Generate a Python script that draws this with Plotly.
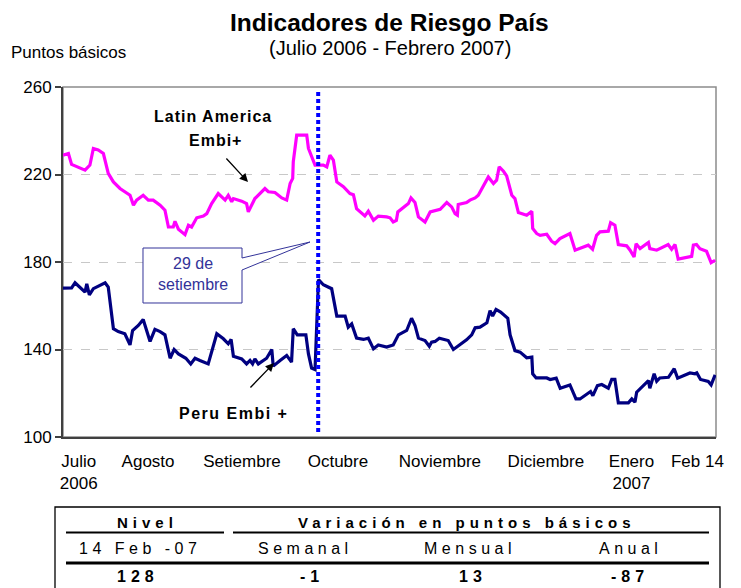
import plotly.graph_objects as go

# ---------------- data (days since 1 Jul 2006, basis points) ----------------
lat_day = [0, 1.9, 3.0, 7.7, 9.4, 10.6, 12.3, 14.1, 15.8, 17.6,
           19.9, 22.2, 23.4, 24.6, 25.7, 28.0, 29.8, 31.5, 33.9, 35.6,
           36.8, 38.5, 39.1, 40.3, 42.6, 43.8, 44.9, 46.7, 49.0, 50.2,
           51.9, 54.2, 56.6, 57.7, 58.9, 59.5, 62.4, 64.1, 64.7, 67.0,
           68.8, 70.5, 71.7, 74.0, 76.4, 78.1, 79.3, 80.2, 80.4, 81.6,
           85.1, 85.7, 88.0, 90.9, 92.1, 93.2, 94.4, 95.6, 97.9, 100.2,
           101.4, 102.5, 105.4, 106.6, 108.4, 110.1, 113.0, 114.2, 115.3, 116.4,
           116.9, 119.4, 120.6, 121.5, 122.9, 124.1, 126.4, 128.2, 130.0, 131.7,
           134.0, 135.7, 136.9, 137.7, 138.0, 140.9, 142.1, 143.9, 145.0, 146.8,
           148.5, 150.3, 151.4, 152.3, 153.8, 154.9, 156.7, 157.8, 159.0, 161.9,
           163.7, 164.0, 165.4, 166.6, 168.9, 170.6, 171.8, 173.5, 175.3, 177.0,
           178.8, 181.1, 183.4, 184.9, 186.3, 187.5, 190.4, 191.2, 192.7, 193.9,
           196.8, 198.0, 199.4, 200.1, 201.5, 204.4, 204.9, 207.3, 209.6, 211.3,
           212.5, 213.7, 214.8, 219.5, 220.1, 221.2, 222.4, 224.7, 226.3, 227.7]
lat_val = [228.8, 229.6, 224.6, 222.0, 224.3, 231.9, 231.2, 229.6, 220.5, 216.6,
           213.6, 211.3, 210.5, 206.0, 208.3, 210.5, 208.3, 208.3, 206.0, 203.7,
           196.0, 196.0, 198.6, 195.0, 192.5, 196.8, 196.0, 200.2, 201.0, 202.1,
           206.7, 211.3, 208.3, 210.5, 207.5, 209.0, 207.8, 206.7, 202.9, 209.0,
           211.3, 213.6, 212.1, 211.8, 209.3, 208.3, 215.9, 218.2, 225.8, 238.0,
           238.0, 231.9, 224.3, 224.3, 223.5, 228.8, 226.6, 216.6, 214.4, 211.3,
           210.8, 204.4, 201.1, 203.2, 199.1, 201.0, 200.6, 200.2, 198.3, 199.0,
           202.9, 205.2, 206.7, 209.3, 207.2, 200.6, 198.3, 202.9, 203.4, 204.1,
           207.2, 205.2, 202.1, 201.4, 206.3, 207.2, 208.3, 209.3, 210.5, 215.1,
           218.9, 215.9, 217.4, 223.5, 221.5, 219.4, 210.5, 209.0, 202.6, 201.4,
           203.2, 195.3, 193.0, 192.2, 192.7, 189.5, 188.4, 190.7, 191.9, 193.0,
           185.4, 186.5, 187.7, 185.8, 192.2, 193.8, 194.1, 198.0, 196.8, 188.0,
           187.4, 185.4, 182.3, 188.4, 186.1, 188.9, 186.1, 185.4, 186.9, 188.0,
           185.8, 188.0, 181.3, 182.6, 187.7, 188.0, 186.1, 184.9, 179.7, 180.8]

peru_day = [0, 3.0, 4.2, 7.7, 8.3, 9.2, 10.6, 14.7, 15.8, 17.6,
            19.3, 21.6, 23.4, 24.3, 26.3, 28.0, 30.4, 32.1, 33.9, 35.6,
            37.4, 38.8, 40.3, 42.9, 44.6, 46.1, 47.8, 50.7, 53.7, 56.0,
            57.7, 58.7, 59.5, 62.4, 64.1, 65.3, 66.2, 67.0, 68.2, 71.1,
            72.9, 73.4, 75.8, 78.1, 79.8, 80.4, 81.8, 84.8, 85.7, 86.8,
            88.0, 89.2, 90.9, 93.8, 95.6, 98.5, 99.6, 100.8, 102.5, 104.9,
            106.6, 108.4, 110.1, 113.0, 115.3, 117.1, 120.0, 121.7, 122.9, 124.1,
            126.4, 127.9, 128.7, 129.9, 131.4, 134.5, 136.3, 138.0, 140.9, 142.7,
            143.9, 145.6, 148.0, 149.1, 150.0, 151.2, 152.8, 155.3, 156.1, 157.8,
            159.6, 161.9, 163.7, 164.0, 165.2, 168.9, 170.1, 172.2, 173.6, 177.0,
            179.1, 180.5, 184.2, 185.0, 186.6, 188.1, 190.4, 191.6, 192.7, 193.9,
            197.4, 198.6, 199.7, 200.3, 202.0, 204.4, 204.9, 206.4, 207.3, 208.4,
            211.4, 213.4, 214.6, 216.8, 218.9, 220.7, 221.3, 222.6, 225.3, 226.3,
            227.7]
peru_val = [168.1, 168.2, 170.5, 166.2, 170.0, 165.0, 167.8, 170.5, 168.5, 149.5,
            148.2, 147.2, 142.1, 148.7, 151.0, 153.7, 143.7, 149.2, 148.2, 146.7,
            136.0, 140.0, 138.0, 136.0, 133.4, 136.0, 135.0, 133.4, 147.2, 144.9,
            142.6, 144.6, 136.9, 135.7, 133.4, 135.0, 133.4, 135.7, 133.4, 136.0,
            140.0, 132.4, 135.0, 137.3, 134.2, 149.5, 146.7, 146.7, 138.0, 131.5,
            130.8, 172.0, 169.6, 167.8, 155.3, 155.3, 150.2, 151.7, 145.2, 144.6,
            145.2, 140.3, 142.1, 141.1, 142.1, 146.7, 148.7, 154.3, 151.0, 145.2,
            144.1, 141.5, 143.4, 143.7, 145.2, 144.1, 140.0, 141.5, 144.4, 146.7,
            149.9, 150.2, 152.2, 157.8, 155.3, 158.3, 157.1, 154.3, 146.7, 139.5,
            138.8, 136.2, 136.5, 128.9, 127.0, 127.0, 126.3, 126.9, 122.3, 123.8,
            117.4, 117.4, 120.8, 118.9, 123.5, 124.0, 122.3, 126.3, 126.3, 115.6,
            115.6, 117.4, 115.9, 120.5, 122.8, 125.8, 122.3, 128.9, 125.5, 127.0,
            127.3, 131.2, 126.9, 128.1, 129.3, 128.9, 129.3, 126.3, 125.4, 123.8,
            128.4]

event_day = 89.1
event_label = ["29 de", "setiembre"]

month_tick_days = [5.5, 29.7, 62.5, 96.0, 131.6, 168.6, 198.5, 221.5]
month_tick_text = ["Julio<br>2006", "Agosto", "Setiembre", "Octubre", "Noviembre",
                   "Diciembre", "Enero<br>2007", "Feb 14"]
y_ticks = [100, 140, 180, 220, 260]

table_header = ["Nivel", "Variación en puntos básicos"]
table_sub = ["14 Feb -07", "Semanal", "Mensual", "Anual"]
table_vals = ["128", "-1", "13", "-87"]

# ---------------- layout helpers ----------------
# the page body adds an 8px margin, so the figure is 8px smaller and the
# plot area sits at x 63..716, y 87..437 of the page
PAGE_OFF = 8
W, H = 741 - PAGE_OFF, 588 - PAGE_OFF
PL, PR, PT, PB = 63, 716, 87, 437  # plot area in page pixels
L, T = PL - PAGE_OFF, PT - PAGE_OFF
R, B = W - (PR - PAGE_OFF), H - (PB - PAGE_OFF)
PW = PR - PL
PH = PB - PT
FONT = "Liberation Sans, Arial, sans-serif"


def px(x):
    return (x - PL) / PW


def py(y):
    return (PB - y) / PH


def spaced(t, s):
    return '<span style="letter-spacing:%spx">%s</span>' % (s, t)


fig = go.Figure()
fig.add_trace(go.Scatter(x=lat_day, y=lat_val, mode="lines", name="Latin America Embi+",
                         line=dict(color="#ff00ff", width=3.2), showlegend=False))
fig.add_trace(go.Scatter(x=peru_day, y=peru_val, mode="lines", name="Peru Embi +",
                         line=dict(color="#000080", width=3.2), showlegend=False))

shapes = []
# plot frame (grey top/right)
shapes.append(dict(type="rect", xref="paper", yref="paper", x0=0, x1=1, y0=0, y1=1,
                   line=dict(color="#8c8c8c", width=1.5), layer="below"))
# event dotted line
shapes.append(dict(type="line", xref="x", yref="paper", x0=event_day, x1=event_day,
                   y0=py(432), y1=py(89), line=dict(color="#0000ff", width=4, dash="4px,3px"),
                   layer="above"))
# callout bubble
pts = [(143, 248), (242, 248), (242, 258), (310, 242), (242, 270), (242, 303), (143, 303)]
path = "M " + " L ".join("%.5f,%.5f" % (px(a), py(b)) for a, b in pts) + " Z"
shapes.append(dict(type="path", xref="paper", yref="paper", path=path,
                   fillcolor="white", line=dict(color="#333399", width=1)))
# table box and rules
shapes.append(dict(type="rect", xref="paper", yref="paper", x0=px(55), x1=px(720),
                   y0=py(620), y1=py(507), line=dict(color="#000000", width=1.3)))
shapes.append(dict(type="line", xref="paper", yref="paper", x0=px(66), x1=px(224),
                   y0=py(532.5), y1=py(532.5), line=dict(color="#000000", width=2)))
shapes.append(dict(type="line", xref="paper", yref="paper", x0=px(233), x1=px(709),
                   y0=py(532.5), y1=py(532.5), line=dict(color="#000000", width=2)))
shapes.append(dict(type="line", xref="paper", yref="paper", x0=px(66), x1=px(709),
                   y0=py(563), y1=py(563), line=dict(color="#000000", width=3)))

ann = []
ann.append(dict(text="<b>Indicadores de Riesgo País</b>", x=px(389), y=py(22.5),
                font=dict(size=24.5, color="black")))
ann.append(dict(text="(Julio 2006 - Febrero 2007)", x=px(390), y=py(48),
                font=dict(size=20, color="black")))
ann.append(dict(text="Puntos básicos", x=px(9), y=py(53), xanchor="left",
                font=dict(size=17, color="black")))
ann.append(dict(text="<b>" + spaced("Latin America", 1) + "</b>", x=px(213), y=py(116),
                font=dict(size=16, color="black")))
ann.append(dict(text="<b>" + spaced("Embi+", 1) + "</b>", x=px(215), y=py(140),
                font=dict(size=16, color="black")))
ann.append(dict(text="<b>" + spaced("Peru Embi +", 1.5) + "</b>", x=px(233), y=py(413),
                font=dict(size=16, color="black")))
ann.append(dict(text=event_label[0], x=px(193), y=py(263),
                font=dict(size=16, color="#333399")))
ann.append(dict(text=event_label[1], x=px(193), y=py(284),
                font=dict(size=16, color="#333399")))
# arrows
ann.append(dict(text="", x=px(248), y=py(182), showarrow=True, ax=-23, ay=-25,
                arrowhead=2, arrowsize=1.3, arrowwidth=1.3, arrowcolor="black"))
ann.append(dict(text="", x=px(274), y=py(363), showarrow=True, ax=-25, ay=26,
                arrowhead=2, arrowsize=1.3, arrowwidth=1.3, arrowcolor="black"))
# table text
ann.append(dict(text="<b>" + spaced(table_header[0], 5) + "</b>", x=px(147), y=py(522),
                font=dict(size=15, color="black")))
ann.append(dict(text="<b>" + spaced(table_header[1], 5) + "</b>", x=px(467), y=py(522),
                font=dict(size=15, color="black")))
for t, xc in zip(table_sub, [140, 305, 470, 630]):
    ann.append(dict(text=spaced(t, 4.5), x=px(xc), y=py(548),
                    font=dict(size=16, color="black")))
for t, xc in zip(table_vals, [138, 312, 473, 630]):
    ann.append(dict(text="<b>" + spaced(t, 5) + "</b>", x=px(xc), y=py(576),
                    font=dict(size=16, color="black")))
for a in ann:
    a.setdefault("xref", "paper")
    a.setdefault("yref", "paper")
    a.setdefault("showarrow", False)
    a.setdefault("xanchor", "center")
    a.setdefault("yanchor", "middle")

fig.update_layout(
    width=W, height=H,
    margin=dict(l=L, r=R, t=T, b=B),
    paper_bgcolor="white", plot_bgcolor="white",
    font=dict(family=FONT, color="black"),
    shapes=shapes, annotations=ann, showlegend=False,
    xaxis=dict(range=[0, 228], tickvals=month_tick_days, ticktext=month_tick_text,
               showgrid=False, zeroline=False, showline=True, linecolor="#404040",
               linewidth=1.5, ticks="", tickfont=dict(size=17, color="black"),
               ticklabelstandoff=8, fixedrange=True),
    yaxis=dict(range=[100, 260], tickvals=y_ticks, showgrid=True, gridcolor="#c8c8c8",
               griddash="dash", gridwidth=1, zeroline=False, showline=True,
               linecolor="#404040", linewidth=2, ticks="outside", ticklen=6,
               tickcolor="#404040", tickwidth=1.5, tickfont=dict(size=17, color="black"),
               fixedrange=True),
)

fig.write_html("out.html")
